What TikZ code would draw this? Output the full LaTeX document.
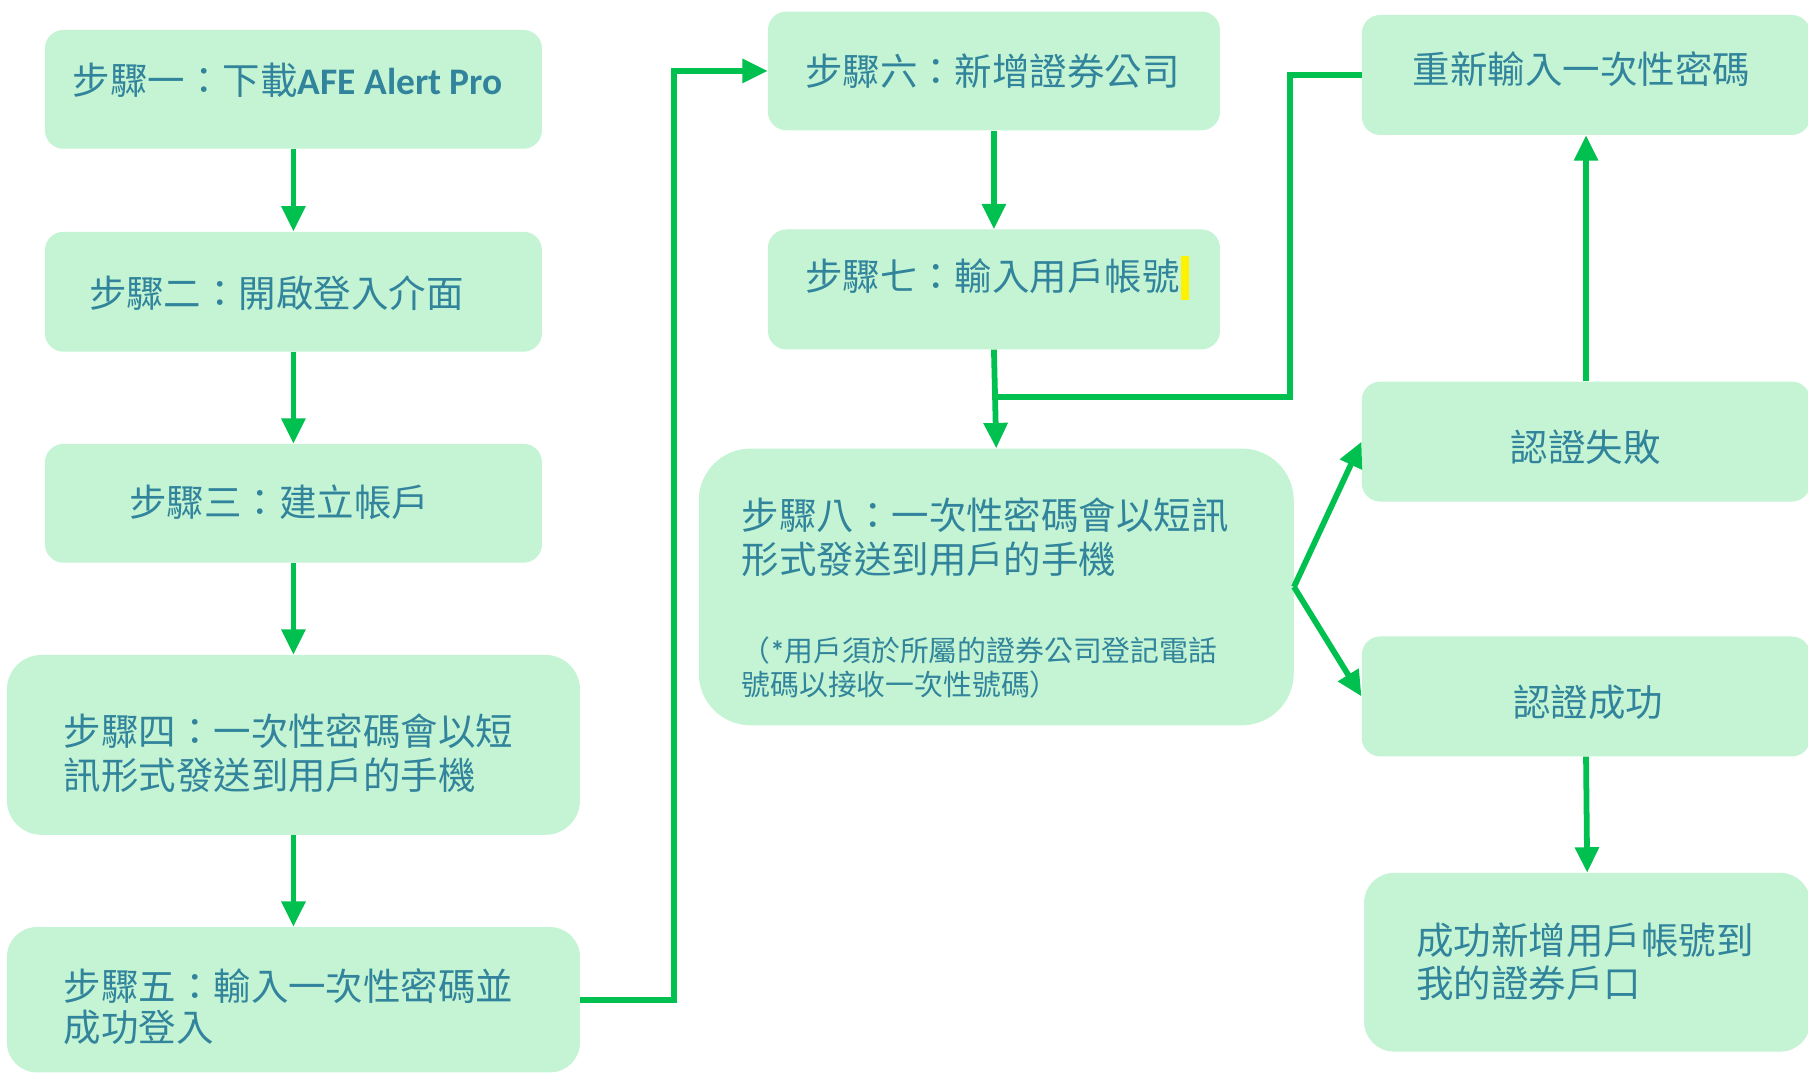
\documentclass[tikz,border=0pt]{standalone}
\usepackage{fontspec}
\setmainfont{Noto Sans CJK TC}
\newfontfamily\carl{Carlito}
\usetikzlibrary{arrows.meta}
\definecolor{boxfill}{HTML}{C4F4D4}
\definecolor{txtc}{HTML}{31849B}
\definecolor{arrowgreen}{HTML}{00C050}
\tikzset{
  box/.style={fill=boxfill, draw=none, rounded corners=16pt, inner sep=0pt, shape=rectangle},
  lbl/.style={anchor=west, inner sep=0pt, text=txtc, font=\fontsize{32.5}{38}\selectfont, align=left},
  notelbl/.style={anchor=west, inner sep=0pt, text=txtc, font=\fontsize{25}{30}\selectfont, align=left},
  conn/.style={draw=arrowgreen, line width=5pt},
  arr/.style={conn, -{Triangle[width=20pt,length=22pt]}},
}
\begin{document}
\begin{tikzpicture}[x=1pt,y=-1pt]
\useasboundingbox (0,0) rectangle (1568,931);
\clip (0,0) rectangle (1568,931);
\fill[white] (0,0) rectangle (1568,931);

% left column
\node[box, minimum width=431pt, minimum height=103pt] (b1) at (254.5,77.5) {};
\node[box, minimum width=431pt, minimum height=104pt] (b2) at (254.5,253) {};
\node[box, minimum width=431pt, minimum height=103pt] (b3) at (254.5,436.5) {};
\node[box, rounded corners=30pt, minimum width=497pt, minimum height=156pt] (b4) at (254.5,646) {};
\node[box, rounded corners=26pt, minimum width=497pt, minimum height=126pt] (b5) at (254.5,867) {};

% middle column
\node[box, minimum width=392pt, minimum height=103pt] (b6) at (862,61.5) {};
\node[box, minimum width=392pt, minimum height=104pt] (b7) at (862,251) {};
\node[box, rounded corners=45pt, minimum width=516pt, minimum height=240pt] (b8) at (864,509) {};

% right column
\node[box, minimum width=389pt, minimum height=104pt] (b9) at (1375.5,65) {};
\node[box, minimum width=389pt, minimum height=104pt] (b10) at (1375.5,383) {};
\node[box, minimum width=389pt, minimum height=104pt] (b11) at (1375.5,604) {};
\node[box, rounded corners=26pt, minimum width=387pt, minimum height=155pt] (b12) at (1376.5,834.5) {};

% texts
\node[lbl] (t1) at (63,70) {步驟一：下載{\carl\bfseries AFE Alert Pro}};
\node[lbl] (t2) at (77,254) {步驟二：開啟登入介面};
\node[lbl] (t3) at (112,436) {步驟三：建立帳戶};
\node[lbl] (t4) at (55,653) {步驟四：一次性密碼會以短\\訊形式發送到用戶的手機};
\node[lbl, font=\fontsize{32.5}{36}\selectfont] (t5) at (55,873) {步驟五：輸入一次性密碼並\\成功登入};
\node[lbl] (t6) at (698,62) {步驟六：新增證券公司};
\node[lbl] (t7) at (698,240) {步驟七：輸入用戶帳號};
\fill[yellow] (1024,222) rectangle (1031,260);
\node[lbl] (t8) at (643,466) {步驟八：一次性密碼會以短訊\\形式發送到用戶的手機};
\node[notelbl] (t8n) at (643,579) {（{\carl\bfseries *}用戶須於所屬的證券公司登記電話\\號碼以接收一次性號碼）};
\node[lbl] (t9) at (1225,60) {重新輸入一次性密碼};
\node[lbl] (t10) at (1310,388) {認證失敗};
\node[lbl] (t11) at (1312,609) {認證成功};
\node[lbl] (t12) at (1228,834) {成功新增用戶帳號到\\我的證券戶口};

% connectors
\draw[arr] (b1.south) -- (b2.north);
\draw[arr] (b2.south) -- (b3.north);
\draw[arr] (b3.south) -- (b4.north);
\draw[arr] (b4.south) -- (b5.north);
\draw[arr] (b5.east) -- ++(81,0) |- (b6.west);
\draw[arr] (b6.south) -- (b7.north);
\coordinate (j) at (863,344);
\draw[conn] (b9.west) -- ++(-62,0) |- (j);
\draw[arr] (b7.south) -- (b8.north);
\draw[arr] (b8.east) -- (b10.west);
\draw[arr] (b8.east) -- (b11.west);
\draw[arr] (b10.north) -- (b9.south);
\draw[arr] (b11.south) -- (b12.north);
\end{tikzpicture}
\end{document}
